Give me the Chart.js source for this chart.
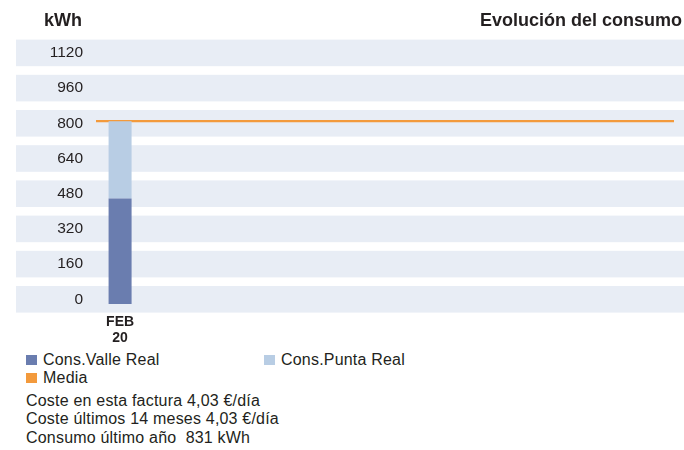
<!DOCTYPE html>
<html>
<head>
<meta charset="utf-8">
<script src="https://cdn.jsdelivr.net/npm/chart.js"></script>
<style>
  body { margin: 0; background: #fff; font-family: "Liberation Sans", Arial, sans-serif; color: #231f20; }
  #wrap { position: relative; width: 684px; height: 450px; overflow: hidden; }
  canvas { position: absolute; left: 0; top: 0; }
  .t { position: absolute; white-space: nowrap; }
  .title { font-weight: bold; font-size: 18px; line-height: 18px; top: 11px; }
  .lg { font-size: 16px; line-height: 18px; letter-spacing: 0.2px; }
  .sq { position: absolute; width: 11px; height: 10px; }
</style>
</head>
<body>
<div id="wrap">
  <canvas id="chart" width="684" height="345"></canvas>
  <div class="t title" style="left:44px">kWh</div>
  <div class="t title" style="right:2px">Evolución del consumo</div>

  <div class="sq" style="left:26px; top:355px; background:#6a7daf"></div>
  <div class="t lg" style="left:43px; top:351px">Cons.Valle Real</div>
  <div class="sq" style="left:264px; top:355px; background:#b8cde4"></div>
  <div class="t lg" style="left:281px; top:351px">Cons.Punta Real</div>
  <div class="sq" style="left:26px; top:373px; background:#f39a3c"></div>
  <div class="t lg" style="left:43px; top:369px">Media</div>

  <div class="t lg" style="left:26px; top:392px">Coste en esta factura 4,03 €/día</div>
  <div class="t lg" style="left:26px; top:410px">Coste últimos 14 meses 4,03 €/día</div>
  <div class="t lg" style="left:26px; top:429px">Consumo último año&nbsp; 831 kWh</div>
</div>
<script>
  // months shown on the axis (only the first has data)
  const months = [["FEB", "20"], "", "", "", "", "", "", "", "", "", "", ""]
  const valle = [480, null, null, null, null, null, null, null, null, null, null, null]
  const punta = [351, null, null, null, null, null, null, null, null, null, null, null]
  const media = 831
  const yTicks = [0, 160, 320, 480, 640, 800, 960, 1120]

  const labelShift = -4.7

  // light stripes behind each tick label
  const bands = {
    id: "bands",
    beforeDraw(chart) {
      const { ctx, scales } = chart
      ctx.save()
      ctx.fillStyle = "#e8edf5"
      yTicks.forEach((v) => {
        const c = scales.y.getPixelForValue(v) + labelShift
        ctx.fillRect(16, c - 13.3, chart.width - 16, 26.6)
      })
      ctx.restore()
    },
  }

  new Chart(document.getElementById("chart"), {
    data: {
      labels: months,
      datasets: [
        { type: "bar", label: "Cons.Valle Real", data: valle, backgroundColor: "#6a7daf", grouped: false, maxBarThickness: 23 },
        { type: "bar", label: "Cons.Punta Real", data: punta, backgroundColor: "#b8cde4", grouped: false, maxBarThickness: 23 },
        {
          type: "line", label: "Media", xAxisID: "x2",
          data: [{ x: 0, y: media }, { x: 1, y: media }],
          borderColor: "#f39a3c", borderWidth: 2.2, pointRadius: 0,
        },
      ],
    },
    options: {
      responsive: false,
      animation: false,
      layout: { padding: { top: 40, right: 10, left: 0, bottom: 0 } },
      plugins: { legend: { display: false }, tooltip: { enabled: false } },
      scales: {
        x: {
          type: "category",
          offset: true,
          stacked: true,
          grid: { display: false, drawTicks: false },
          border: { display: false },
          ticks: { color: "#231f20", font: { family: "Liberation Sans", size: 14, weight: "bold", lineHeight: 1.08 }, padding: 11, autoSkip: false, maxRotation: 0 },
          afterFit: (s) => { s.height = 41 },
        },
        x2: { type: "linear", display: false, min: 0, max: 1 },
        y: {
          stacked: true,
          min: 0,
          max: 1200,
          grid: { display: false, drawTicks: false },
          border: { display: false },
          afterBuildTicks: (s) => { s.ticks = yTicks.map((v) => ({ value: v })) },
          ticks: {
            color: "#231f20", font: { family: "Liberation Sans", size: 15.5 }, padding: 13, labelOffset: labelShift,
            callback: (v) => String(v),
          },
          afterFit: (s) => { s.width = 96 },
        },
      },
    },
    plugins: [bands],
  })
</script>
</body>
</html>
